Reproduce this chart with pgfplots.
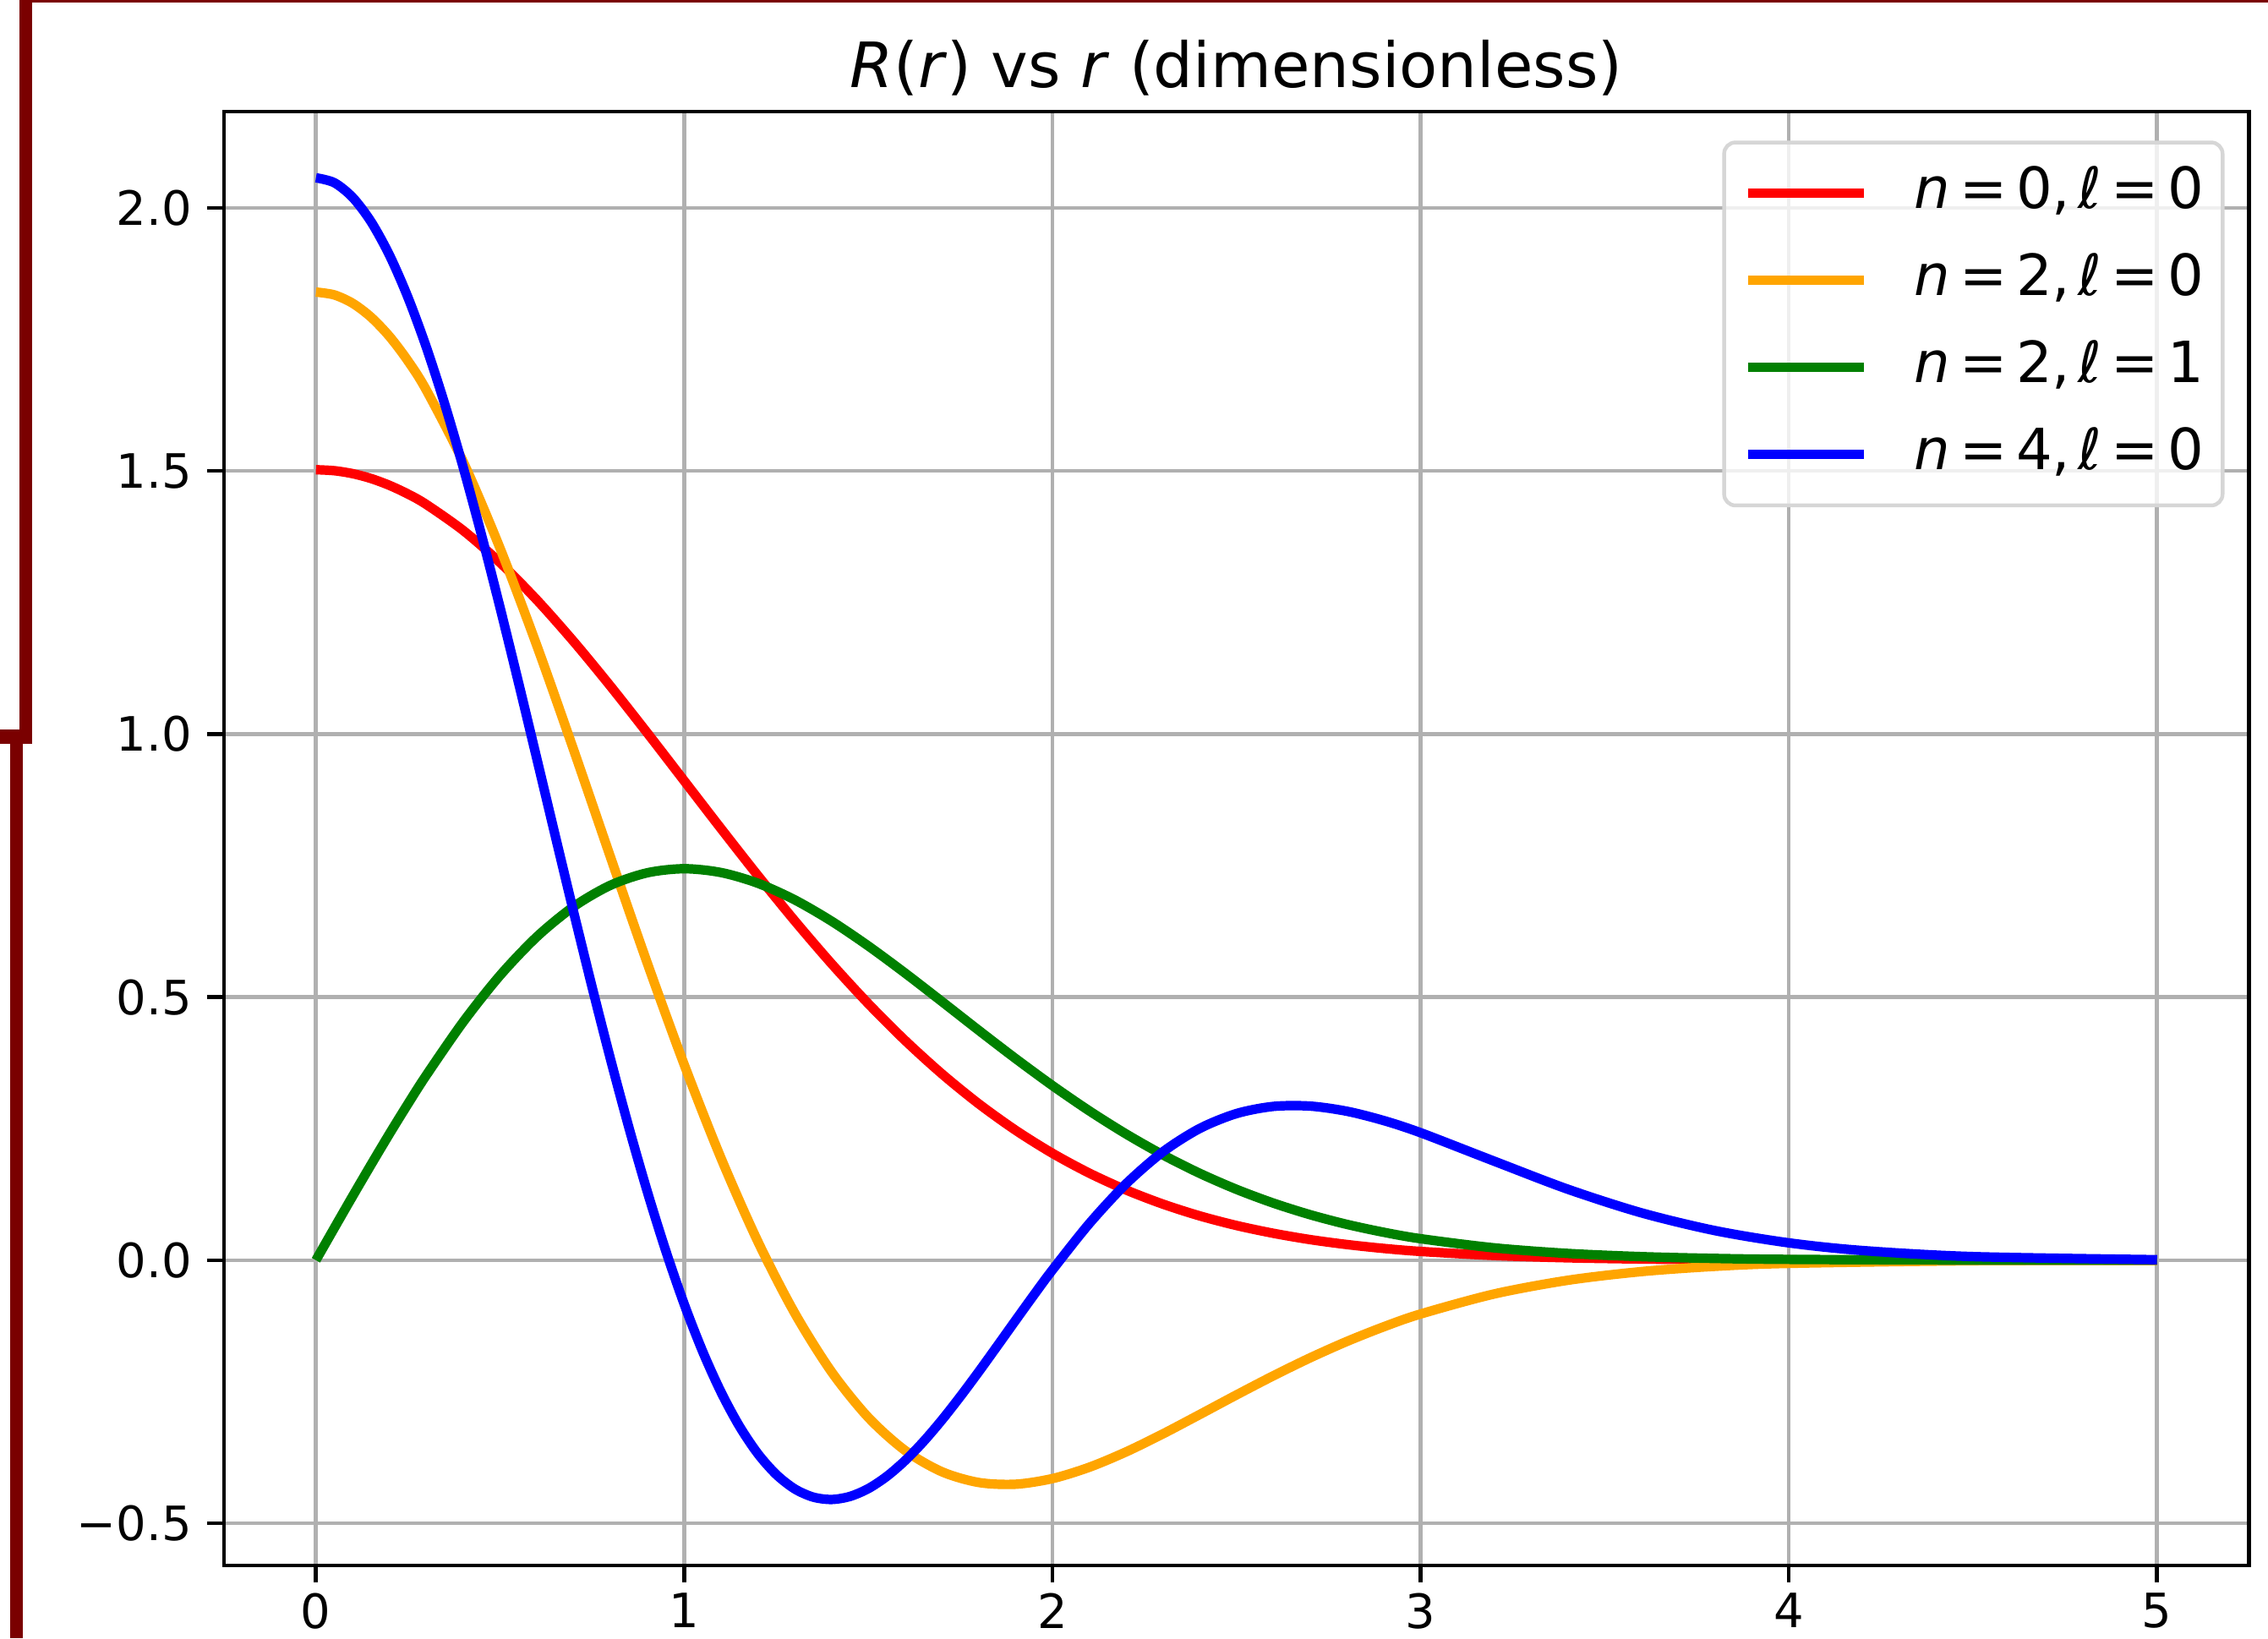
\documentclass[border=0pt]{standalone}
\usepackage{pgfplots}
\pgfplotsset{compat=1.18}
\usepackage{fontspec}
\setmainfont{DejaVu Sans}
\definecolor{frameRed}{RGB}{122,0,0}
\definecolor{gridgray}{RGB}{176,176,176}
\definecolor{mplorange}{RGB}{255,165,0}
\definecolor{mplgreen}{RGB}{0,128,0}
\definecolor{legedge}{RGB}{214,214,214}
\newcommand{\lab}[2]{\textit{n}\hspace{0.16em}=\hspace{0.16em}#1,\hspace{0.14em}\textit{ℓ}\hspace{0.16em}=\hspace{0.16em}#2}
\begin{document}
\begin{tikzpicture}
\path[use as bounding box] (-47.3pt,-15.4pt) rectangle (431.9pt,330.8pt);
\begin{axis}[
 at={(0,0)}, anchor=south west,
 scale only axis, width=427.9pt, height=307.2pt,
 xmin=-0.25, xmax=5.25, ymin=-0.5803, ymax=2.1827,
 xtick={0,1,2,3,4,5}, xticklabels={0,1,2,3,4,5},
 ytick={-0.5,0,0.5,1,1.5,2}, yticklabels={−0.5,0.0,0.5,1.0,1.5,2.0},
 tick align=outside, xtick pos=left, ytick pos=left,
 major tick length=3.5pt,
 every tick/.style={black, line width=0.8pt},
 axis line style={line width=0.8pt},
 grid=major, major grid style={gridgray, line width=0.8pt},
 ticklabel style={font=\fontsize{10}{12}\selectfont},
 xticklabel style={anchor=north, inner sep=0pt, yshift=-2.1pt},
 yticklabel style={anchor=east, inner sep=0pt, xshift=-3.1pt},
 title={\textit{R}(\textit{r}) vs \textit{r} (dimensionless)},
 title style={font=\fontsize{13.2}{16}\selectfont, at={(axis description cs:0.5,1)}, anchor=base, yshift=-0.9pt, inner sep=0pt},
 legend style={at={(axis description cs:1,1)}, anchor=north east, xshift=-5.2pt, yshift=-6.1pt,
   draw=legedge, line width=0.8pt, rounded corners=2.4pt, fill=white, fill opacity=0.8, text opacity=1,
   font=\fontsize{12}{14}\selectfont, inner xsep=4pt, inner ysep=5pt, row sep=6.9pt, column sep=9.7pt,
   nodes={inner sep=0pt, text height=9pt, text depth=2.5pt}},
 legend cell align=left,
 legend image code/.code={\draw[#1, line width=2pt] (0pt,0pt) -- (24.5pt,0pt);},
]
\addplot[red, line width=2pt, smooth] coordinates {
(0,1.5023)(0.05,1.5004)(0.1,1.4948)(0.15,1.4855)(0.2,1.4725)(0.25,1.4561)(0.3,1.4362)(0.4,1.3868)(0.5,1.3258)(0.6,1.2548)(0.7,1.1758)(0.8,1.0909)(0.9,1.0020)(1.0,0.9112)(1.1,0.8204)(1.2,0.7312)(1.3,0.6453)(1.4,0.5638)(1.5,0.4877)(1.6,0.4177)(1.7,0.3542)(1.8,0.2973)(1.9,0.2471)(2.0,0.2033)(2.1,0.1656)(2.2,0.1336)(2.3,0.1067)(2.4,0.0843)(2.5,0.0660)(2.6,0.0512)(2.7,0.0392)(2.8,0.0298)(2.9,0.0224)(3.0,0.0167)(3.2,0.0090)(3.4,0.0046)(3.6,0.0023)(3.8,0.0011)(4.0,0.0005)(4.5,0.0001)(5.0,0.0000)};
\addlegendentry{\lab{0}{0}}
\addplot[mplorange, line width=2pt, smooth] coordinates {
(0,1.8399)(0.05,1.8345)(0.1,1.8185)(0.15,1.7920)(0.2,1.7554)(0.25,1.7090)(0.3,1.6534)(0.4,1.5173)(0.5,1.3531)(0.6,1.1680)(0.7,0.9697)(0.8,0.7660)(0.9,0.5645)(1.0,0.3720)(1.1,0.1942)(1.2,0.0358)(1.3,-0.1001)(1.4,-0.2118)(1.5,-0.2987)(1.6,-0.3615)(1.7,-0.4020)(1.8,-0.4224)(1.9,-0.4257)(2.0,-0.4150)(2.1,-0.3935)(2.2,-0.3643)(2.3,-0.3301)(2.4,-0.2933)(2.5,-0.2560)(2.6,-0.2197)(2.7,-0.1855)(2.8,-0.1543)(2.9,-0.1265)(3.0,-0.1022)(3.2,-0.0641)(3.4,-0.0381)(3.6,-0.0216)(3.8,-0.0116)(4.0,-0.0060)(4.5,-0.0009)(5.0,-0.0001)};
\addlegendentry{\lab{2}{0}}
\addplot[mplgreen, line width=2pt, smooth] coordinates {
(0,0)(0.05,0.0613)(0.1,0.1221)(0.15,0.1819)(0.2,0.2405)(0.25,0.2972)(0.3,0.3518)(0.4,0.4529)(0.5,0.5412)(0.6,0.6147)(0.7,0.6720)(0.8,0.7126)(0.9,0.7363)(1.0,0.7440)(1.1,0.7368)(1.2,0.7165)(1.3,0.6850)(1.4,0.6445)(1.5,0.5973)(1.6,0.5457)(1.7,0.4916)(1.8,0.4369)(1.9,0.3833)(2.0,0.3320)(2.1,0.2840)(2.2,0.2400)(2.3,0.2003)(2.4,0.1652)(2.5,0.1347)(2.6,0.1086)(2.7,0.0865)(2.8,0.0681)(2.9,0.0531)(3.0,0.0409)(3.2,0.0235)(3.4,0.0129)(3.6,0.0068)(3.8,0.0034)(4.0,0.0016)(4.5,0.0002)(5.0,0.0000)};
\addlegendentry{\lab{2}{1}}
\addplot[blue, line width=2pt, smooth] coordinates {
(0,2.0571)(0.05,2.0477)(0.1,2.0196)(0.15,1.9733)(0.2,1.9097)(0.25,1.8297)(0.3,1.7348)(0.35,1.6266)(0.4,1.5068)(0.45,1.3774)(0.5,1.2405)(0.55,1.0983)(0.6,0.9529)(0.65,0.8065)(0.7,0.6613)(0.75,0.5192)(0.8,0.3822)(0.85,0.2521)(0.9,0.1303)(0.95,0.0182)(1.0,-0.0832)(1.05,-0.1729)(1.1,-0.2504)(1.15,-0.3153)(1.2,-0.3675)(1.25,-0.4071)(1.3,-0.4345)(1.35,-0.4501)(1.4,-0.4547)(1.45,-0.4490)(1.5,-0.4341)(1.55,-0.4110)(1.6,-0.3808)(1.65,-0.3446)(1.7,-0.3036)(1.75,-0.2590)(1.8,-0.2120)(1.85,-0.1634)(1.9,-0.1144)(1.95,-0.0658)(2.0,-0.0186)(2.1,0.0694)(2.2,0.1451)(2.3,0.2059)(2.4,0.2503)(2.5,0.2787)(2.6,0.2923)(2.7,0.2929)(2.8,0.2831)(2.9,0.2654)(3.0,0.2423)(3.2,0.1882)(3.4,0.1349)(3.6,0.0900)(3.8,0.0562)(4.0,0.0330)(4.2,0.0184)(4.5,0.0069)(5.0,0.0010)};
\addlegendentry{\lab{4}{0}}
\end{axis}
\fill[frameRed] (-43.2pt,173.6pt) rectangle (-40.5pt,330.8pt);
\fill[frameRed] (-47.3pt,173.6pt) rectangle (-40.5pt,176.6pt);
\fill[frameRed] (-45.2pt,-15.4pt) rectangle (-42.5pt,176.6pt);
\fill[frameRed] (-43.2pt,330.2pt) rectangle (431.9pt,330.8pt);
\end{tikzpicture}
\end{document}
